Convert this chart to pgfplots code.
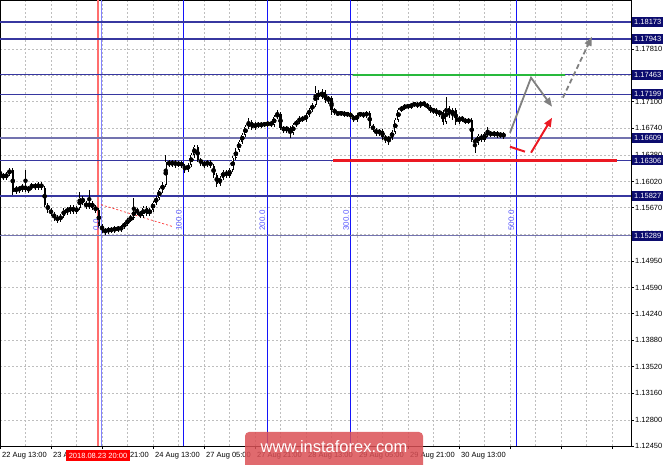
\documentclass[border=0pt]{standalone}
\usepackage{pgfplots}
\pgfplotsset{compat=1.18}
\usepackage{pgfplotstable}
\usepackage{fontspec}
\setmainfont{Liberation Sans}
\usetikzlibrary{arrows.meta}

\definecolor{gridc}{RGB}{190,190,190}
\definecolor{lvl}{RGB}{55,55,160}
\definecolor{lvllight}{RGB}{115,115,175}
\definecolor{boxc}{RGB}{12,12,110}
\definecolor{fibb}{RGB}{20,20,250}
\definecolor{fibt}{RGB}{90,90,255}
\definecolor{fibblight}{RGB}{130,130,255}
\definecolor{redl}{RGB}{235,25,35}
\definecolor{pinkl}{RGB}{255,110,110}
\definecolor{greenl}{RGB}{40,185,60}
\definecolor{arrowg}{RGB}{128,128,128}
\definecolor{wm}{RGB}{218,80,85}

\pgfplotstableread{
i o h l c
0 1.16154 1.16181 1.16086 1.16113
1 1.16113 1.16140 1.16046 1.16073
2 1.16073 1.16154 1.16046 1.16127
3 1.16127 1.16208 1.16100 1.16181
4 1.16181 1.16208 1.15843 1.15884
5 1.15884 1.15965 1.15857 1.15938
6 1.15938 1.15965 1.15870 1.15911
7 1.15911 1.15992 1.15884 1.15965
8 1.15965 1.16181 1.15884 1.15911
9 1.15911 1.15965 1.15870 1.15938
10 1.15938 1.16005 1.15911 1.15978
11 1.15978 1.16005 1.15911 1.15938
12 1.15938 1.16019 1.15911 1.15992
13 1.15992 1.16019 1.15911 1.15938
14 1.15938 1.15965 1.15681 1.15708
15 1.15708 1.15735 1.15600 1.15641
16 1.15641 1.15668 1.15560 1.15587
17 1.15587 1.15614 1.15492 1.15533
18 1.15533 1.15573 1.15465 1.15506
19 1.15506 1.15587 1.15479 1.15560
20 1.15560 1.15668 1.15533 1.15641
21 1.15641 1.15681 1.15573 1.15614
22 1.15614 1.15708 1.15587 1.15681
23 1.15681 1.15708 1.15587 1.15614
24 1.15614 1.15695 1.15587 1.15668
25 1.15668 1.15884 1.15641 1.15803
26 1.15803 1.15830 1.15708 1.15735
27 1.15735 1.15762 1.15654 1.15681
28 1.15681 1.15911 1.15654 1.15735
29 1.15735 1.15762 1.15641 1.15668
30 1.15668 1.15708 1.15600 1.15641
31 1.15641 1.15668 1.15398 1.15425
32 1.15425 1.15452 1.15330 1.15371
33 1.15371 1.15398 1.15303 1.15344
34 1.15344 1.15411 1.15317 1.15384
35 1.15384 1.15411 1.15330 1.15357
36 1.15357 1.15425 1.15330 1.15398
37 1.15398 1.15425 1.15344 1.15371
38 1.15371 1.15438 1.15344 1.15411
39 1.15411 1.15479 1.15384 1.15452
40 1.15452 1.15533 1.15425 1.15506
41 1.15506 1.15573 1.15479 1.15533
42 1.15533 1.15803 1.15506 1.15641
43 1.15641 1.15668 1.15573 1.15600
44 1.15600 1.15627 1.15533 1.15560
45 1.15560 1.15695 1.15533 1.15668
46 1.15668 1.15695 1.15560 1.15587
47 1.15587 1.15668 1.15560 1.15641
48 1.15641 1.15762 1.15614 1.15735
49 1.15735 1.15830 1.15708 1.15803
50 1.15803 1.15938 1.15776 1.15911
51 1.15911 1.16019 1.15870 1.15978
52 1.15978 1.16383 1.15951 1.16289
53 1.16289 1.16316 1.16221 1.16248
54 1.16248 1.16316 1.16221 1.16289
55 1.16289 1.16316 1.16208 1.16248
56 1.16248 1.16302 1.16221 1.16275
57 1.16275 1.16302 1.16208 1.16235
58 1.16235 1.16262 1.16140 1.16181
59 1.16181 1.16275 1.16154 1.16248
60 1.16248 1.16410 1.16221 1.16383
61 1.16383 1.16518 1.16343 1.16491
62 1.16491 1.16518 1.16289 1.16316
63 1.16316 1.16343 1.16235 1.16275
64 1.16275 1.16302 1.16208 1.16248
65 1.16248 1.16316 1.16221 1.16289
66 1.16289 1.16316 1.16208 1.16235
67 1.16235 1.16262 1.16073 1.16113
68 1.16113 1.16140 1.15951 1.15992
69 1.15992 1.16100 1.15965 1.16073
70 1.16073 1.16181 1.16046 1.16154
71 1.16154 1.16181 1.16073 1.16100
72 1.16100 1.16208 1.16073 1.16181
73 1.16181 1.16370 1.16154 1.16343
74 1.16343 1.16478 1.16316 1.16451
75 1.16451 1.16586 1.16424 1.16559
76 1.16559 1.16680 1.16532 1.16653
77 1.16653 1.16788 1.16626 1.16761
78 1.16761 1.16883 1.16734 1.16829
79 1.16829 1.16856 1.16721 1.16748
80 1.16748 1.16829 1.16721 1.16802
81 1.16802 1.16829 1.16748 1.16775
82 1.16775 1.16829 1.16748 1.16802
83 1.16802 1.16829 1.16761 1.16788
84 1.16788 1.16842 1.16761 1.16815
85 1.16815 1.16842 1.16761 1.16788
86 1.16788 1.16923 1.16761 1.16896
87 1.16896 1.16991 1.16869 1.16937
88 1.16937 1.16964 1.16721 1.16748
89 1.16748 1.16775 1.16680 1.16721
90 1.16721 1.16775 1.16680 1.16748
91 1.16748 1.16775 1.16613 1.16680
92 1.16680 1.16815 1.16653 1.16788
93 1.16788 1.16856 1.16761 1.16829
94 1.16829 1.16910 1.16802 1.16883
95 1.16883 1.16910 1.16829 1.16856
96 1.16856 1.16950 1.16829 1.16923
97 1.16923 1.17018 1.16896 1.16991
98 1.16991 1.17085 1.16964 1.17058
99 1.17058 1.17315 1.17031 1.17220
100 1.17220 1.17261 1.17126 1.17166
101 1.17166 1.17274 1.17139 1.17234
102 1.17234 1.17261 1.17085 1.17126
103 1.17126 1.17180 1.17072 1.17153
104 1.17153 1.17180 1.16923 1.16991
105 1.16991 1.17018 1.16923 1.16950
106 1.16950 1.16964 1.16910 1.16937
107 1.16937 1.16977 1.16910 1.16950
108 1.16950 1.16977 1.16896 1.16923
109 1.16923 1.16964 1.16896 1.16937
110 1.16937 1.16964 1.16869 1.16896
111 1.16896 1.16923 1.16829 1.16856
112 1.16856 1.16950 1.16829 1.16923
113 1.16923 1.16964 1.16896 1.16937
114 1.16937 1.16964 1.16883 1.16910
115 1.16910 1.16977 1.16883 1.16950
116 1.16950 1.16977 1.16748 1.16775
117 1.16775 1.16802 1.16694 1.16721
118 1.16721 1.16748 1.16640 1.16680
119 1.16680 1.16734 1.16640 1.16707
120 1.16707 1.16734 1.16586 1.16626
121 1.16626 1.16653 1.16545 1.16586
122 1.16586 1.16640 1.16518 1.16613
123 1.16613 1.16721 1.16586 1.16694
124 1.16694 1.16883 1.16667 1.16856
125 1.16856 1.17018 1.16829 1.16991
126 1.16991 1.17045 1.16964 1.17018
127 1.17018 1.17072 1.16991 1.17045
128 1.17045 1.17072 1.17004 1.17031
129 1.17031 1.17085 1.17004 1.17058
130 1.17058 1.17099 1.17031 1.17072
131 1.17072 1.17099 1.17018 1.17045
132 1.17045 1.17112 1.17018 1.17085
133 1.17085 1.17112 1.17031 1.17058
134 1.17058 1.17085 1.17004 1.17031
135 1.17031 1.17058 1.16950 1.16977
136 1.16977 1.17018 1.16937 1.16991
137 1.16991 1.17018 1.16910 1.16937
138 1.16937 1.16991 1.16896 1.16964
139 1.16964 1.16991 1.16788 1.16829
140 1.16829 1.17166 1.16802 1.17018
141 1.17018 1.17045 1.16883 1.16923
142 1.16923 1.17018 1.16856 1.16991
143 1.16991 1.17018 1.16788 1.16829
144 1.16829 1.16910 1.16802 1.16883
145 1.16883 1.16910 1.16829 1.16856
146 1.16856 1.16883 1.16802 1.16829
147 1.16829 1.16883 1.16802 1.16856
148 1.16856 1.16883 1.16559 1.16586
149 1.16586 1.16613 1.16410 1.16545
150 1.16545 1.16667 1.16518 1.16640
151 1.16640 1.16667 1.16559 1.16586
152 1.16586 1.16694 1.16559 1.16667
153 1.16667 1.16761 1.16626 1.16680
154 1.16680 1.16707 1.16626 1.16653
155 1.16653 1.16707 1.16626 1.16680
156 1.16680 1.16707 1.16613 1.16640
157 1.16640 1.16694 1.16613 1.16667
158 1.16667 1.16694 1.16599 1.16626
}\candles

\tikzset{lvlbox/.style={fill=boxc, text=white, anchor=west, inner xsep=2pt, inner ysep=2pt,
  text height=5.6pt, text depth=0.4pt, font=\fontsize{7.5}{8}\selectfont},
  fiblab/.style={rotate=90, anchor=south west, inner sep=0pt, text=fibt, font=\fontsize{8}{8}\selectfont}}

\begin{document}
\begin{tikzpicture}
\useasboundingbox (0,0) rectangle (665pt,464pt);
\begin{axis}[
  at={(0pt,18pt)}, anchor=south west,
  width=631pt, height=446pt, scale only axis,
  xmin=0, xmax=197.96, ymin=1.12450, ymax=1.18472,
  axis line style={black, line width=0.8pt},
  xtick={0,16,...,192},
  xticklabels={22 Aug 13:00,23 Aug 05:00,23 Aug 21:00,24 Aug 13:00,27 Aug 05:00,27 Aug 21:00,28 Aug 13:00,29 Aug 05:00,29 Aug 21:00,30 Aug 13:00,,,},
  minor xtick={8,24,...,184},
  ytick={1.12450,1.12800,1.13160,1.13520,1.13880,1.14240,1.14590,1.14950,1.15310,1.15670,1.16020,1.16380,1.16740,1.17100,1.17460,1.17810,1.18170},
  yticklabels={1.12450,1.12800,1.13160,1.13520,1.13880,1.14240,1.14590,1.14950,1.15310,1.15670,1.16020,1.16380,1.16740,1.17100,1.17460,1.17810,1.18170},
  xtick pos=bottom, ytick pos=right, yticklabel pos=right,
  tick align=outside, major tick length=3pt, minor tick length=0pt,
  tick style={black, line width=0.6pt},
  grid=both,
  major grid style={gridc, dash pattern=on 2pt off 2pt, line width=0.6pt},
  minor grid style={gridc, dash pattern=on 2pt off 2pt, line width=0.6pt},
  tick label style={font=\fontsize{7.5}{8}\selectfont},
  xticklabel style={anchor=north west, inner sep=0pt, xshift=2pt, yshift=-3pt},
  yticklabel style={anchor=west, inner sep=0pt, xshift=1pt},
]
% Fibonacci time zones and marker line
\addplot[fibblight, line width=1pt] coordinates {(31.7,1.12450) (31.7,1.18472)};
\addplot[pinkl, line width=1.3pt] coordinates {(30.7,1.12450) (30.7,1.18472)};
\addplot[fibb, line width=0.9pt] coordinates {(57.7,1.12450) (57.7,1.18472)};
\addplot[fibb, line width=0.9pt] coordinates {(83.9,1.12450) (83.9,1.18472)};
\addplot[fibb, line width=0.9pt] coordinates {(110.1,1.12450) (110.1,1.18472)};
\addplot[fibb, line width=0.9pt] coordinates {(162.0,1.12450) (162.0,1.18472)};
% horizontal levels
\addplot[lvl, line width=1.4pt] coordinates {(0,1.18173) (197.96,1.18173)};
\addplot[lvl, line width=1.4pt] coordinates {(0,1.17943) (197.96,1.17943)};
\addplot[lvl, line width=1.4pt] coordinates {(0,1.17463) (197.96,1.17463)};
\addplot[lvl, line width=1.4pt] coordinates {(0,1.17199) (197.96,1.17199)};
\addplot[lvllight, line width=1.4pt] coordinates {(0,1.16609) (197.96,1.16609)};
\addplot[lvl, line width=1.4pt] coordinates {(0,1.16306) (197.96,1.16306)};
\addplot[lvl, line width=1.4pt] coordinates {(0,1.15827) (197.96,1.15827)};
\addplot[lvllight, line width=1.4pt] coordinates {(0,1.15289) (197.96,1.15289)};
% green target and red support
\addplot[greenl, line width=2pt] coordinates {(110.7,1.17463) (177.3,1.17463)};
\addplot[redl, line width=2.4pt] coordinates {(104.5,1.16306) (193.6,1.16306)};
% fib base line
\addplot[red!80, line width=0.7pt, dash pattern=on 2pt off 2pt] coordinates {(31.7,1.15708) (54.3,1.15411)};
% candles: wicks
\addplot[only marks, mark=none, forget plot,
  error bars/.cd, y dir=both, y explicit, error mark=none,
  error bar style={draw=black, line width=0.8pt}]
  table[x=i, y expr={(\thisrow{h}+\thisrow{l})/2}, y error expr={(\thisrow{h}-\thisrow{l})/2}] {\candles};
% bull bodies (hollow)
\addplot[only marks, mark=none, forget plot,
  restrict expr to domain={\thisrow{c}-\thisrow{o}}{0:1},
  error bars/.cd, y dir=both, y explicit, error mark=none,
  error bar style={draw=black, line width=2.1pt}]
  table[x=i, y expr={(\thisrow{o}+\thisrow{c})/2}, y error expr={max(abs(\thisrow{c}-\thisrow{o})/2,0.00004)}] {\candles};
\addplot[only marks, mark=none, forget plot,
  restrict expr to domain={\thisrow{c}-\thisrow{o}}{0:1},
  error bars/.cd, y dir=both, y explicit, error mark=none,
  error bar style={draw=white, line width=0.7pt}]
  table[x=i, y expr={(\thisrow{o}+\thisrow{c})/2}, y error expr={max(abs(\thisrow{c}-\thisrow{o})/2-0.00008,0)}] {\candles};
% bear bodies
\addplot[only marks, mark=none, forget plot,
  restrict expr to domain={\thisrow{o}-\thisrow{c}}{0.000005:1},
  error bars/.cd, y dir=both, y explicit, error mark=none,
  error bar style={draw=black, line width=2.1pt}]
  table[x=i, y expr={(\thisrow{o}+\thisrow{c})/2}, y error expr={max(abs(\thisrow{c}-\thisrow{o})/2,0.00004)}] {\candles};
% forecast arrows
\addplot[arrowg, line width=1.8pt, -{Triangle[length=9pt,width=7pt]}] coordinates {(160.0,1.16680) (166.6,1.17423) (173.2,1.17031)};
\addplot[arrowg, line width=1.8pt, dash pattern=on 5pt off 3pt, -{Triangle[length=9pt,width=7pt]}] coordinates {(176.6,1.17153) (185.7,1.17976)};
\addplot[redl, line width=2pt] coordinates {(160.0,1.16491) (164.7,1.16424)};
\addplot[redl, line width=2pt, -{Triangle[length=9pt,width=7pt]}] coordinates {(166.6,1.16410) (173.2,1.16883)};
% fib labels
\node[fiblab] at (axis cs:31.1,1.15357) {0.0};
\node[fiblab] at (axis cs:57.1,1.15357) {100.0};
\node[fiblab] at (axis cs:83.3,1.15357) {200.0};
\node[fiblab] at (axis cs:109.5,1.15357) {300.0};
\node[fiblab] at (axis cs:161.4,1.15357) {500.0};
% anchors for price boxes
\coordinate (b1) at (axis cs:197.96,1.18173);
\coordinate (b2) at (axis cs:197.96,1.17943);
\coordinate (b3) at (axis cs:197.96,1.17463);
\coordinate (b4) at (axis cs:197.96,1.17199);
\coordinate (b5) at (axis cs:197.96,1.16609);
\coordinate (b6) at (axis cs:197.96,1.16306);
\coordinate (b7) at (axis cs:197.96,1.15827);
\coordinate (b8) at (axis cs:197.96,1.15289);
\end{axis}
\node[lvlbox] at ([xshift=1pt]b1) {1.18173};
\node[lvlbox] at ([xshift=1pt]b2) {1.17943};
\node[lvlbox] at ([xshift=1pt]b3) {1.17463};
\node[lvlbox] at ([xshift=1pt]b4) {1.17199};
\node[lvlbox] at ([xshift=1pt]b5) {1.16609};
\node[lvlbox] at ([xshift=1pt]b6) {1.16306};
\node[lvlbox] at ([xshift=1pt]b7) {1.15827};
\node[lvlbox] at ([xshift=1pt]b8) {1.15289};
% date marker box
\node[fill=red, text=white, inner xsep=3pt, inner ysep=2.5pt, text height=5.6pt, text depth=0.4pt,
  font=\fontsize{7.5}{8}\selectfont] at (98pt,8.5pt) {2018.08.23 20:00};
% watermark
\fill[wm, opacity=0.85, rounded corners=4pt] (245pt,-6pt) rectangle (423pt,32pt);
\node[text=white, font=\fontsize{16.5}{18}\selectfont] at (334pt,17.5pt) {www.instaforex.com};
\end{tikzpicture}
\end{document}
